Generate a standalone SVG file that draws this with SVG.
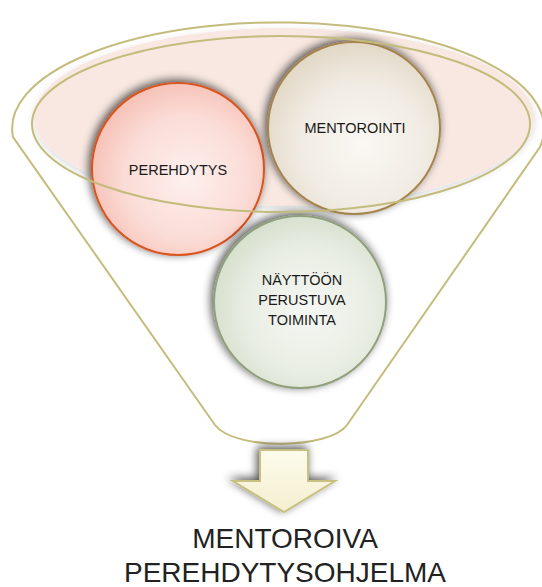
<svg xmlns="http://www.w3.org/2000/svg" width="542" height="587" viewBox="0 0 542 587">
<defs>
<style>
.fun{fill:none;stroke:#c4bc7c;stroke-width:2}
.lbl{font-family:"Liberation Sans",Arial,sans-serif;font-size:14.5px;fill:#1a1a1a;text-anchor:middle}
.big{font-family:"Liberation Sans",Arial,sans-serif;font-size:28px;fill:#222222;text-anchor:middle}
</style>
<filter id="sh" x="-30%" y="-30%" width="160%" height="160%">
<feGaussianBlur in="SourceAlpha" stdDeviation="5"/>
<feOffset dx="-2" dy="-2" result="b"/>
<feComponentTransfer><feFuncA type="linear" slope="0.7"/></feComponentTransfer>
<feMerge><feMergeNode/><feMergeNode in="SourceGraphic"/></feMerge>
</filter>
<filter id="sh2" x="-10%" y="-10%" width="120%" height="130%">
<feGaussianBlur in="SourceAlpha" stdDeviation="4"/>
<feOffset dx="0" dy="3"/>
<feComponentTransfer><feFuncA type="linear" slope="0.15"/></feComponentTransfer>
<feMerge><feMergeNode/><feMergeNode in="SourceGraphic"/></feMerge>
</filter>
<radialGradient id="gP" cx="0.55" cy="0.55" r="0.6">
<stop offset="0" stop-color="#fdf0ee"/><stop offset="0.6" stop-color="#fbdcd6"/><stop offset="1" stop-color="#f5bdb2"/>
</radialGradient>
<radialGradient id="gM" cx="0.55" cy="0.6" r="0.6">
<stop offset="0" stop-color="#faf8f4"/><stop offset="0.6" stop-color="#f1ece3"/><stop offset="1" stop-color="#e2d8c7"/>
</radialGradient>
<radialGradient id="gN" cx="0.55" cy="0.55" r="0.6">
<stop offset="0" stop-color="#f5f7f3"/><stop offset="0.6" stop-color="#e9eee4"/><stop offset="1" stop-color="#d4ddc9"/>
</radialGradient>
<linearGradient id="gA" x1="0" y1="0" x2="0" y2="1">
<stop offset="0" stop-color="#fdfbec"/><stop offset="1" stop-color="#f4efcf"/>
</linearGradient>
</defs>
<rect width="542" height="587" fill="#ffffff"/>
<g id="background">
<ellipse cx="284" cy="117" rx="250" ry="89" fill="#f8e8e1" filter="url(#sh2)"/>
</g>
<g id="funnel">
<path class="fun" d="M13,137 A266,106 0 1 1 540,147 L347,425 C330,449 235,451 215,425 Z"/>
</g>
<g id="perehdytys">
<circle cx="178" cy="169" r="86" fill="url(#gP)" stroke="#d9541f" stroke-width="2" filter="url(#sh)"/>
<text class="lbl" x="178" y="175">PEREHDYTYS</text>
</g>
<g id="mentorointi">
<circle cx="354" cy="128" r="86" fill="url(#gM)" stroke="#a4844e" stroke-width="2" filter="url(#sh)"/>
<text class="lbl" x="355" y="133">MENTOROINTI</text>
</g>
<g id="naytto">
<circle cx="300" cy="302" r="86" fill="url(#gN)" stroke="#909f7c" stroke-width="2" filter="url(#sh)"/>
<text class="lbl" x="302" y="285">NÄYTTÖÖN</text>
<text class="lbl" x="302" y="305">PERUSTUVA</text>
<text class="lbl" x="302" y="325">TOIMINTA</text>
</g>
<g id="connectors">
<ellipse class="fun" cx="281" cy="124" rx="249" ry="88"/>
<path d="M260,450 L308,450 L308,481 L335,481 L284,512 L233,481 L260,481 Z" fill="url(#gA)" stroke="#c8c080" stroke-width="2" filter="url(#sh)"/>
</g>
<g id="result">
<text class="big" x="285" y="548">MENTOROIVA</text>
<text class="big" x="285" y="582">PEREHDYTYSOHJELMA</text>
</g>
</svg>
